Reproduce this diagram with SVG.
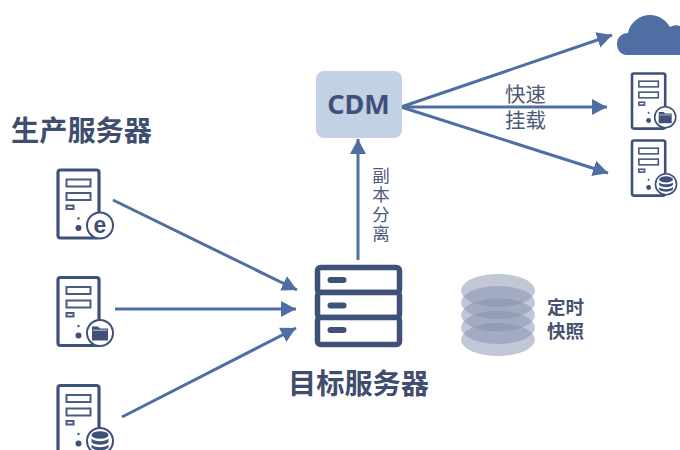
<svg xmlns="http://www.w3.org/2000/svg" width="680" height="450" viewBox="0 0 680 450">
<style>
text{font-family:"Noto Sans CJK SC","Liberation Sans",sans-serif;fill:#46536f}
.title{font-size:28.200px;font-weight:700;fill:#3f4d6f}
.label{font-size:17.500px;font-weight:400;fill:#4d5a78}
.bold{font-size:18.500px;font-weight:700;fill:#46536f}
.conn{stroke:#4f6ea3;stroke-width:3;fill:none}
.box{fill:#fff;stroke:#3f5079;stroke-width:3.200}
.thin{fill:#fff;stroke:#4a5b82;stroke-width:2}
.ink{fill:#3f5079}
.disk{fill:#8390ae;fill-opacity:.5}
</style>
<defs>
<marker id="ah" markerUnits="userSpaceOnUse" markerWidth="18" markerHeight="18" refX="15" refY="8" orient="auto"><path d="M0 0L15 8L0 16Z" fill="#4f6ea3"/></marker>
<g id="tower">
<rect x="0" y="0" width="41" height="68" rx="2.500" class="box"/>
<rect x="8.500" y="9.500" width="24" height="7" class="thin"/>
<rect x="8.500" y="23" width="24" height="7" class="thin"/>
<rect x="8.500" y="35.500" width="7" height="3.500" class="thin" stroke-width="1.500"/>
<circle cx="20.500" cy="48.500" r="1.200" class="ink"/>
<circle cx="20.500" cy="58" r="3" class="ink"/>
</g>
<g id="ring"><circle r="13" fill="#fff" stroke="#3f5079" stroke-width="2"/></g>
<g id="dbglyph" class="ink"><ellipse cy="-6" rx="8.500" ry="3.800"/><path d="M-8.500 -2.500C-6 1 6 1 8.500 -2.500V1C6 4.500 -6 4.500 -8.500 1Z"/><path d="M-8.500 3.500C-6 7 6 7 8.500 3.500V6.500C6 10 -6 10 -8.500 6.500Z"/></g>
<g id="folderglyph"><path class="ink" d="M-8 -6.500H-2L0 -4.500H8V7.500H-8Z"/><path d="M-7 -2.800H7" stroke="#c9d2e2" stroke-width="1"/></g>
</defs>

<g id="connectors">
<path class="conn" marker-end="url(#ah)" d="M113 200L297 290"/>
<path class="conn" marker-end="url(#ah)" d="M115 309L296 309"/>
<path class="conn" marker-end="url(#ah)" d="M122 417L296 328"/>
<path class="conn" marker-end="url(#ah)" d="M358 260V139"/>
<path class="conn" marker-end="url(#ah)" d="M401 107L612 35"/>
<path class="conn" marker-end="url(#ah)" d="M401 107H607"/>
<path class="conn" marker-end="url(#ah)" d="M401 107L608 173"/>
</g>

<g id="source-title"><text class="title" x="11" y="141">生产服务器</text></g>

<g id="source-web">
<use href="#tower" x="58" y="170"/>
<use href="#ring" x="100" y="225.500"/>
<text x="100" y="233" text-anchor="middle" style="font-family:'Liberation Sans',sans-serif;font-size:23px;font-weight:700;fill:#3f5079">e</text>
</g>
<g id="source-file">
<use href="#tower" x="58" y="277.500"/>
<use href="#ring" x="100" y="333"/>
<use href="#folderglyph" x="100" y="333"/>
</g>
<g id="source-db">
<use href="#tower" x="58" y="385.500"/>
<use href="#ring" x="100" y="441"/>
<use href="#dbglyph" x="100" y="441"/>
</g>

<g id="cdm">
<rect x="316" y="71" width="86" height="67" rx="8" fill="#c3d1e4"/>
<text x="358.500" y="114" text-anchor="middle" style="font-family:'Noto Sans','Liberation Sans',sans-serif;font-size:27px;font-weight:700;fill:#41507a">CDM</text>
</g>

<g id="target">
<rect x="317.500" y="267.500" width="82" height="25" rx="3" fill="#fff" stroke="#3f5079" stroke-width="5.500"/>
<rect x="317.500" y="292.500" width="82" height="25" rx="3" fill="#fff" stroke="#3f5079" stroke-width="5.500"/>
<rect x="317.500" y="317.500" width="82" height="27" rx="3" fill="#fff" stroke="#3f5079" stroke-width="5.500"/>
<rect x="327.500" y="277" width="19" height="6" rx="3" class="ink"/>
<rect x="327.500" y="302.500" width="19" height="6" rx="3" class="ink"/>
<rect x="327.500" y="327" width="19" height="6" rx="3" class="ink"/>
<text class="title" x="288" y="394">目标服务器</text>
</g>

<g id="snapshot">
<ellipse class="disk" cx="498" cy="290.500" rx="37" ry="16.500" fill-opacity=".45"/>
<ellipse class="disk" cx="498" cy="302.500" rx="37" ry="16.500"/>
<ellipse class="disk" cx="498" cy="315" rx="37" ry="16.500"/>
<ellipse class="disk" cx="498" cy="327.500" rx="37" ry="16.500"/>
<ellipse class="disk" cx="498" cy="339.500" rx="37" ry="16.500"/>
<text class="bold"><tspan x="547" y="314">定时</tspan><tspan x="547" y="337.500">快照</tspan></text>
</g>

<g id="copy-label">
<text class="label" x="381" y="167" style="writing-mode:vertical-rl;letter-spacing:1.600px">副本分离</text>
</g>
<g id="mount-label">
<text class="label" style="font-size:20.500px"><tspan x="505" y="102">快速</tspan><tspan x="505" y="128">挂载</tspan></text>
</g>

<g id="cloud"><path fill="#4f6ea3" d="M627 55C620 55 617 49 617 44C617 37 622 33 628 33C630 22 640 15 650 15C659 15 666 20 670 27C674 25 677 25 680 26V55Z"/></g>

<g id="dest-file" transform="translate(632 73.500) scale(.81)">
<use href="#tower"/>
<use href="#ring" x="41" y="54"/>
<use href="#folderglyph" x="41" y="54"/>
</g>
<g id="dest-db" transform="translate(632 140.500) scale(.81)">
<use href="#tower"/>
<use href="#ring" x="42" y="54"/>
<use href="#dbglyph" x="42" y="54"/>
</g>
</svg>
